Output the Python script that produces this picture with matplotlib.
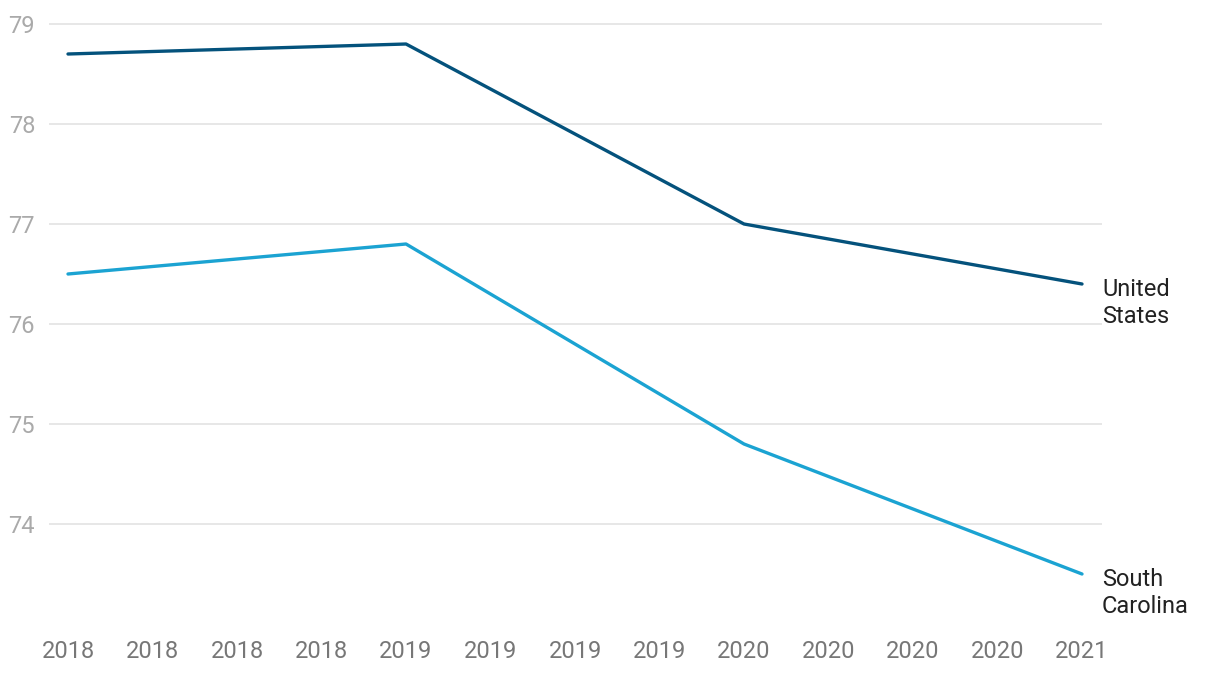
import matplotlib
matplotlib.use('Agg')
import matplotlib.pyplot as plt

years = [2018, 2019, 2020, 2021]
united_states = [78.7, 78.8, 77.0, 76.4]
south_carolina = [76.5, 76.8, 74.8, 73.5]
x_ticks = [2018 + 0.25 * i for i in range(13)]
x_tick_labels = [str(int(t)) for t in x_ticks]
y_ticks = [74, 75, 76, 77, 78, 79]

plt.rcParams['font.family'] = ['Roboto', 'DejaVu Sans']

fig = plt.figure(figsize=(12.2, 6.74), dpi=100)
ax = fig.add_axes([49 / 1220, 50 / 674, (1102 - 49) / 1220, (654 - 50) / 674])

ax.plot(years, united_states, color='#04527c', linewidth=2.4, solid_capstyle='round')
ax.plot(years, south_carolina, color='#1ba3d2', linewidth=2.4, solid_capstyle='round')

# series labels to the right of the last point
for vals, name in [(united_states, 'United\nStates'), (south_carolina, 'South\nCarolina')]:
    ax.annotate(name, xy=(years[-1], vals[-1]), xytext=(20, -19), textcoords='offset pixels',
                fontsize=17, color='#222222', va='center', ha='left', linespacing=1.18,
                annotation_clip=False)

ax.set_xlim(2018 - 19 / 338, 2021 + 20 / 338)
ax.set_ylim(73, 79.04)
ax.set_xticks(x_ticks)
ax.set_xticklabels(x_tick_labels)
ax.set_yticks(y_ticks)

ax.grid(axis='y', color='#e3e3e3', linewidth=1.2)
ax.set_axisbelow(True)
for s in ax.spines.values():
    s.set_visible(False)
ax.tick_params(axis='both', length=0)
ax.tick_params(axis='x', labelsize=17, labelcolor='#777777', pad=11.5)
ax.tick_params(axis='y', labelsize=17, labelcolor='#aaaaaa', pad=10)

fig.savefig('out.png', dpi=100)
